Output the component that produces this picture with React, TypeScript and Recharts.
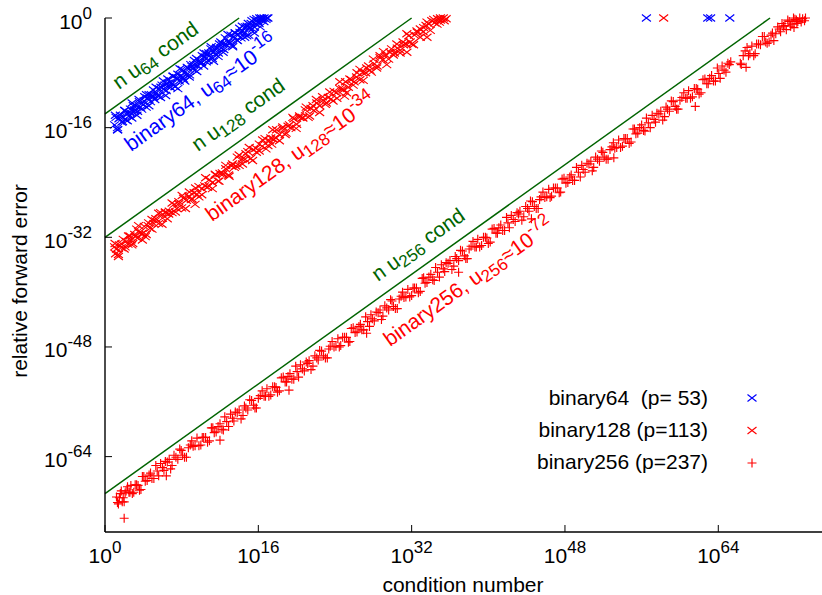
import { ScatterChart, Scatter, XAxis, YAxis, ReferenceLine } from "recharts"

// [log10(condition number), log10(relative forward error)]
const binary64: [number, number][] = [
  [1.0, -15.6], [1.15, -14.5], [1.3, -16.0], [1.45, -14.7], [1.6, -14.2], [1.75, -15.2], [1.9, -14.5], [2.05, -13.5],
  [2.2, -14.9], [2.35, -13.9], [2.5, -14.3], [2.65, -13.3], [2.8, -14.6], [2.95, -12.8], [3.1, -13.4], [3.25, -12.8],
  [3.4, -13.6], [3.55, -11.9], [3.7, -13.0], [3.85, -12.5], [4.0, -12.6], [4.15, -11.5], [4.3, -13.0], [4.45, -11.7],
  [4.6, -11.2], [4.75, -12.2], [4.9, -11.5], [5.05, -10.5], [5.2, -11.9], [5.35, -10.9], [5.5, -11.3], [5.65, -10.3],
  [5.8, -11.6], [5.95, -9.8], [6.1, -10.4], [6.25, -9.8], [6.4, -10.6], [6.55, -8.9], [6.7, -10.0], [6.85, -9.5],
  [7.0, -9.6], [7.15, -8.5], [7.3, -10.0], [7.45, -8.7], [7.6, -8.2], [7.75, -9.2], [7.9, -8.5], [8.05, -7.5],
  [8.2, -8.9], [8.35, -7.9], [8.5, -8.3], [8.65, -7.3], [8.8, -8.6], [8.95, -6.8], [9.1, -7.4], [9.25, -6.8],
  [9.4, -7.6], [9.55, -5.9], [9.7, -7.0], [9.85, -6.5], [10.0, -6.6], [10.15, -5.5], [10.3, -7.0], [10.45, -5.7],
  [10.6, -5.2], [10.75, -6.2], [10.9, -5.5], [11.05, -4.5], [11.2, -5.9], [11.35, -4.9], [11.5, -5.3], [11.65, -4.3],
  [11.8, -5.6], [11.95, -3.8], [12.1, -4.4], [12.25, -3.8], [12.4, -4.6], [12.55, -2.9], [12.7, -4.0], [12.85, -3.5],
  [13.0, -3.6], [13.15, -2.5], [13.3, -4.0], [13.45, -2.7], [13.6, -2.2], [13.75, -3.2], [13.9, -2.5], [14.05, -1.5],
  [14.2, -2.9], [14.35, -1.9], [14.5, -2.3], [14.65, -1.3], [14.8, -2.6], [14.95, -0.8], [15.1, -1.4], [15.25, -0.8],
  [15.4, -1.6], [15.55, -0.2], [15.7, -0.9], [15.85, -0.4], [16.0, -0.6], [16.15, 0], [16.3, -0.3], [16.45, -0.1],
  [16.6, 0], [16.8, -0.2], [17.0, 0], [15.0, -2.5], [15.6, -2.2], [16.2, -1.3], [1.3, -16.3], [7.6, -10.3],
  [56.5, 0], [62.9, 0], [63.2, 0], [65.2, 0],
  // second run
  [1.08, -14.2], [1.33, -16.3], [1.58, -14.5], [1.83, -15.1], [2.08, -13.5], [2.33, -15.0], [2.58, -13.8], [2.83, -12.4],
  [3.08, -13.6], [3.33, -14.2], [3.58, -12.2], [3.83, -13.3], [4.08, -12.1], [4.33, -11.2], [4.58, -12.8], [4.83, -11.2],
  [5.08, -11.5], [5.33, -10.1], [5.58, -11.4], [5.83, -10.1], [6.08, -9.2], [6.33, -11.3], [6.58, -9.5], [6.83, -10.1],
  [7.08, -8.5], [7.33, -10.0], [7.58, -8.8], [7.83, -7.4], [8.08, -8.6], [8.33, -9.2], [8.58, -7.2], [8.83, -8.3],
  [9.08, -7.1], [9.33, -6.2], [9.58, -7.8], [9.83, -6.2], [10.08, -6.5], [10.33, -5.1], [10.58, -6.4], [10.83, -5.1],
  [11.08, -4.2], [11.33, -6.3], [11.58, -4.5], [11.83, -5.1], [12.08, -3.5], [12.33, -5.0], [12.58, -3.8], [12.83, -2.4],
  [13.08, -3.6], [13.33, -4.2], [13.58, -2.2], [13.83, -3.3], [14.08, -2.1], [14.33, -1.2], [14.58, -2.8], [14.83, -1.2],
  [15.08, -1.5], [15.33, -0.4], [15.58, -1.3], [15.83, -0.1], [16.08, -0.8], [16.33, 0], [16.58, -0.5], [16.9, 0],
]

const binary128: [number, number][] = [
  [1.0, -33.4], [1.1, -34.4], [1.2, -33.7], [1.4, -34.5], [1.5, -33.1], [1.7, -33.5], [1.9, -32.3], [2.0, -33.7],
  [2.2, -32.6], [2.4, -33.0], [2.6, -31.8], [2.7, -32.4], [2.9, -32.9], [3.1, -31.6], [3.3, -30.8], [3.4, -32.1],
  [3.6, -31.3], [3.9, -31.4], [4.1, -30.4], [4.3, -31.6], [4.5, -30.3], [4.7, -30.7], [4.9, -29.4], [5.1, -30.0],
  [5.3, -29.3], [5.6, -30.0], [5.8, -28.4], [6.0, -29.2], [6.3, -28.4], [6.5, -29.3], [6.7, -28.2], [7.0, -28.4],
  [7.2, -27.2], [7.5, -27.8], [7.7, -27.1], [8.0, -27.7], [8.2, -26.3], [8.5, -26.6], [8.8, -25.4], [9.0, -26.5],
  [9.3, -25.5], [9.6, -25.7], [9.8, -24.6], [10.1, -25.8], [10.4, -24.5], [10.7, -24.7], [10.9, -23.6], [11.2, -24.0],
  [11.5, -22.8], [11.8, -23.8], [12.0, -22.7], [12.3, -22.8], [12.6, -22.0], [12.9, -22.9], [13.2, -21.6], [13.5, -21.8],
  [13.8, -20.3], [14.0, -21.5], [14.3, -20.6], [14.6, -20.6], [14.9, -19.5], [15.2, -20.5], [15.5, -19.2], [15.8, -19.6],
  [16.1, -18.4], [16.4, -18.7], [16.7, -17.6], [17.0, -18.6], [17.3, -17.5], [17.6, -17.7], [17.9, -16.3], [18.2, -17.0],
  [18.5, -16.1], [18.8, -17.0], [19.1, -15.8], [19.4, -16.0], [19.7, -14.7], [20.0, -15.5], [20.3, -14.5], [20.6, -14.5],
  [20.9, -13.4], [21.2, -14.5], [21.5, -13.2], [21.8, -13.5], [22.1, -12.4], [22.4, -12.8], [22.7, -11.5], [23.0, -12.6],
  [23.3, -11.6], [23.6, -11.8], [23.9, -10.7], [24.2, -11.7], [24.5, -10.3], [24.8, -10.3], [25.1, -9.3], [25.4, -10.1],
  [25.7, -9.0], [26.0, -9.3], [26.3, -8.0], [26.6, -9.0], [26.9, -8.0], [27.2, -8.0], [27.5, -7.0], [27.8, -7.9],
  [28.1, -6.7], [28.4, -7.0], [28.7, -5.5], [29.0, -6.1], [29.3, -5.4], [29.6, -6.0], [29.9, -4.5], [30.2, -5.1],
  [30.5, -4.4], [30.8, -4.7], [31.1, -3.5], [31.4, -3.8], [31.7, -2.6], [32.0, -3.8], [32.3, -2.5], [32.6, -2.1],
  [32.9, -1.6], [33.2, -2.0], [33.5, -1.1], [33.8, -0.9], [34.1, -0.4], [34.4, -0.7], [34.7, -0.1], [35.0, -0.3],
  [35.3, 0], [35.6, -0.1], [34.9, -0.6], [3.9, -32.4], [17.4, -18.4], [9.4, -27.2], [25.0, -11.4], [33.6, -2.8],
  [31.5, -5.0], [58.3, 0],
  // second run
  [1.05, -32.9], [1.4, -34.8], [1.75, -33.0], [2.1, -33.4], [2.45, -31.8], [2.8, -33.1], [3.15, -31.9], [3.5, -30.3],
  [3.85, -31.5], [4.2, -31.9], [4.55, -29.9], [4.9, -30.8], [5.25, -29.6], [5.6, -28.5], [5.95, -30.1], [6.3, -28.3],
  [6.65, -28.6], [7.0, -27.0], [7.35, -28.3], [7.7, -26.8], [8.05, -25.9], [8.4, -27.8], [8.75, -26.0], [9.1, -26.4],
  [9.45, -24.8], [9.8, -26.1], [10.15, -24.9], [10.5, -23.3], [10.85, -24.5], [11.2, -24.9], [11.55, -22.9], [11.9, -23.8],
  [12.25, -22.6], [12.6, -21.5], [12.95, -23.1], [13.3, -21.3], [13.65, -21.6], [14.0, -20.0], [14.35, -21.3], [14.7, -19.8],
  [15.05, -18.9], [15.4, -20.8], [15.75, -19.0], [16.1, -19.4], [16.45, -17.8], [16.8, -19.1], [17.15, -17.9], [17.5, -16.3],
  [17.85, -17.5], [18.2, -17.9], [18.55, -15.9], [18.9, -16.8], [19.25, -15.6], [19.6, -14.5], [19.95, -16.1], [20.3, -14.3],
  [20.65, -14.6], [21.0, -13.0], [21.35, -14.3], [21.7, -12.8], [22.05, -11.9], [22.4, -13.8], [22.75, -12.0], [23.1, -12.4],
  [23.45, -10.8], [23.8, -12.1], [24.15, -10.9], [24.5, -9.3], [24.85, -10.5], [25.2, -10.9], [25.55, -8.9], [25.9, -9.8],
  [26.25, -8.6], [26.6, -7.5], [26.95, -9.1], [27.3, -7.3], [27.65, -7.6], [28.0, -6.0], [28.35, -7.3], [28.7, -5.8],
  [29.05, -4.9], [29.4, -6.8], [29.75, -5.0], [30.1, -5.4], [30.45, -3.8], [30.8, -5.1], [31.15, -3.9], [31.5, -2.3],
  [31.85, -3.5], [32.2, -3.9], [32.55, -1.9], [32.9, -2.8], [33.25, -1.4], [33.6, -0.6], [33.95, -1.8], [34.3, -0.2],
  [34.65, -0.9], [35.0, 0], [35.4, -0.4],
]

const binary256: [number, number][] = [
  [1.2, -69.9], [1.4, -70.9], [1.5, -70.0], [1.7, -69.0], [1.9, -70.0], [2.0, -70.6], [2.2, -69.0], [2.5, -69.2],
  [2.7, -68.2], [3.0, -69.2], [3.3, -68.1], [3.6, -68.9], [3.9, -66.9], [4.2, -67.6], [4.6, -66.7], [4.9, -67.2],
  [5.3, -65.3], [5.6, -66.8], [6.0, -65.6], [6.3, -64.7], [6.7, -64.4], [7.0, -65.3], [7.4, -64.1], [7.8, -62.9],
  [8.1, -63.8], [8.5, -64.1], [8.9, -62.3], [9.2, -62.5], [9.6, -61.3], [10.0, -62.3], [10.3, -61.2], [10.7, -61.9],
  [11.1, -59.8], [11.4, -60.5], [11.8, -59.6], [12.2, -60.0], [12.5, -58.2], [12.9, -59.6], [13.3, -58.4], [13.6, -57.5],
  [14.0, -57.2], [14.4, -58.0], [14.7, -56.9], [15.1, -55.7], [15.5, -56.5], [15.8, -56.9], [16.2, -55.1], [16.6, -55.2],
  [16.9, -54.1], [17.3, -55.0], [17.7, -53.8], [18.0, -54.6], [18.4, -52.5], [18.8, -53.1], [19.1, -52.3], [19.5, -52.7],
  [19.9, -50.8], [20.2, -52.4], [20.6, -51.2], [21.0, -50.2], [21.3, -50.0], [21.7, -50.8], [22.1, -49.6], [22.4, -48.5],
  [22.8, -49.3], [23.2, -49.6], [23.5, -47.9], [23.9, -48.0], [24.3, -46.8], [24.6, -47.8], [25.0, -46.6], [25.4, -47.3],
  [25.7, -45.3], [26.1, -45.9], [26.5, -45.0], [26.8, -45.5], [27.2, -43.6], [27.6, -45.0], [27.9, -43.9], [28.3, -42.9],
  [28.7, -42.6], [29.0, -43.5], [29.4, -42.3], [29.8, -41.1], [30.1, -42.1], [30.5, -42.4], [30.9, -40.6], [31.2, -40.8],
  [31.6, -39.6], [32.0, -40.5], [32.3, -39.4], [32.7, -40.1], [33.1, -38.0], [33.4, -38.7], [33.8, -37.8], [34.2, -38.2],
  [34.5, -36.4], [34.9, -37.8], [35.3, -36.6], [35.6, -35.7], [36.0, -35.4], [36.4, -36.2], [36.7, -35.1], [37.1, -33.9],
  [37.5, -34.7], [37.8, -35.1], [38.2, -33.3], [38.6, -33.4], [38.9, -32.3], [39.3, -33.2], [39.7, -32.0], [40.0, -32.9],
  [40.4, -30.8], [40.8, -31.4], [41.1, -30.6], [41.5, -31.0], [41.9, -29.1], [42.2, -30.6], [42.6, -29.4], [43.0, -28.4],
  [43.3, -28.2], [43.7, -29.0], [44.1, -27.8], [44.4, -26.7], [44.8, -27.5], [45.2, -27.8], [45.5, -26.1], [45.9, -26.2],
  [46.3, -25.0], [46.6, -26.0], [47.0, -24.8], [47.4, -25.5], [47.7, -23.5], [48.1, -24.1], [48.5, -23.2], [48.8, -23.7],
  [49.2, -21.8], [49.6, -23.2], [49.9, -22.1], [50.3, -21.2], [50.7, -20.9], [51.0, -21.8], [51.4, -20.6], [51.8, -19.4],
  [52.1, -20.3], [52.5, -20.6], [52.9, -18.8], [53.2, -19.0], [53.6, -17.8], [54.0, -18.7], [54.3, -17.6], [54.7, -18.3],
  [55.1, -16.2], [55.4, -16.9], [55.8, -16.0], [56.2, -16.4], [56.5, -14.6], [56.9, -16.0], [57.3, -14.8], [57.6, -13.9],
  [58.0, -13.6], [58.4, -14.4], [58.7, -13.3], [59.1, -12.1], [59.5, -12.9], [59.8, -13.3], [60.2, -11.6], [60.6, -11.7],
  [60.9, -10.6], [61.3, -11.5], [61.7, -10.3], [62.0, -11.1], [62.4, -9.0], [62.8, -9.6], [63.1, -8.8], [63.5, -9.2],
  [63.9, -7.3], [64.2, -8.8], [64.6, -7.6], [65.0, -6.6], [65.3, -6.4], [66.3, -6.6], [66.6, -5.5], [67.0, -4.3],
  [67.3, -5.2], [67.7, -5.5], [68.0, -3.8], [68.4, -3.9], [68.8, -2.7], [69.1, -3.7], [69.5, -2.5], [69.8, -3.3],
  [70.2, -1.3], [70.5, -2.0], [70.8, -1.2], [71.1, -1.7], [71.4, -0.5], [71.7, -0.9], [72.0, -0.2], [72.3, -0.5],
  [72.5, 0], [72.8, -0.1], [73.1, 0], [71.9, -1.4], [2.0, -73.0], [6.4, -66.8], [12.0, -61.6], [19.2, -54.3],
  [27.3, -46.0], [36.9, -37.1], [44.5, -29.3], [53.1, -20.4], [61.6, -12.9], [66.9, -7.2], [72.2, -0.8],
  // second run
  [1.3, -70.7], [1.6, -69.4], [1.8, -70.6], [2.1, -69.3], [2.35, -68.4], [2.6, -69.2], [2.85, -69.4], [3.15, -68.1],
  [3.45, -68.2], [3.75, -68.8], [4.05, -66.9], [4.4, -67.5], [4.75, -66.4], [5.1, -67.2], [5.45, -66.1], [5.8, -65.0],
  [6.15, -66.0], [6.5, -64.8], [6.85, -65.8], [7.2, -63.8], [7.6, -64.4], [7.95, -63.1], [8.3, -64.1], [8.7, -62.7],
  [9.05, -61.7], [9.4, -62.4], [9.8, -62.4], [10.15, -61.2], [10.5, -61.2], [10.9, -61.7], [11.25, -59.8], [11.6, -60.4],
  [12.0, -59.2], [12.35, -60.1], [12.7, -58.9], [13.1, -57.8], [13.45, -58.8], [13.8, -57.6], [14.2, -58.5], [14.55, -56.6],
  [14.9, -57.2], [15.3, -55.8], [15.65, -56.9], [16.0, -55.5], [16.4, -54.4], [16.75, -55.2], [17.1, -55.2], [17.5, -53.8],
  [17.85, -53.9], [18.2, -54.4], [18.6, -52.4], [18.95, -53.1], [19.3, -51.9], [19.7, -52.7], [20.05, -51.6], [20.4, -50.6],
  [20.8, -51.5], [21.15, -50.4], [21.5, -51.3], [21.9, -49.3], [22.25, -49.9], [22.6, -48.6], [23.0, -49.6], [23.35, -48.3],
  [23.7, -47.2], [24.1, -47.9], [24.45, -48.0], [24.8, -46.6], [25.2, -46.6], [25.55, -47.2], [25.9, -45.2], [26.3, -45.8],
  [26.65, -44.7], [27.0, -45.5], [27.4, -44.3], [27.75, -43.3], [28.1, -44.2], [28.5, -43.0], [28.85, -44.0], [29.2, -42.0],
  [29.6, -42.6], [29.95, -41.3], [30.3, -42.4], [30.7, -41.0], [31.05, -40.0], [31.4, -40.7], [31.8, -40.7], [32.15, -39.4],
  [32.5, -39.4], [32.9, -39.9], [33.25, -37.9], [33.6, -38.6], [34.0, -37.4], [34.35, -38.3], [34.7, -37.1], [35.1, -36.0],
  [35.45, -37.0], [35.8, -35.8], [36.2, -36.7], [36.55, -34.8], [36.9, -35.4], [37.3, -34.0], [37.65, -35.1], [38.0, -33.7],
  [38.4, -32.6], [38.75, -33.4], [39.1, -33.4], [39.5, -32.0], [39.85, -32.1], [40.2, -32.7], [40.6, -30.7], [40.95, -31.4],
  [41.3, -30.2], [41.7, -31.0], [42.05, -29.9], [42.4, -28.8], [42.8, -29.7], [43.15, -28.6], [43.5, -29.5], [43.9, -27.5],
  [44.25, -28.2], [44.6, -26.8], [45.0, -27.8], [45.35, -26.5], [45.7, -25.4], [46.1, -26.1], [46.45, -26.2], [46.8, -24.8],
  [47.2, -24.8], [47.55, -25.4], [47.9, -23.4], [48.3, -24.0], [48.65, -22.9], [49.0, -23.7], [49.4, -22.5], [49.75, -21.5],
  [50.1, -22.5], [50.5, -21.3], [50.85, -22.3], [51.2, -20.3], [51.6, -20.9], [51.95, -19.6], [52.3, -20.6], [52.7, -19.2],
  [53.05, -18.2], [53.4, -18.9], [53.8, -18.9], [54.15, -17.6], [54.5, -17.6], [54.9, -18.1], [55.25, -16.2], [55.6, -16.8],
  [56.0, -15.6], [56.35, -16.5], [56.7, -15.3], [57.1, -14.2], [57.45, -15.2], [57.8, -14.0], [58.2, -14.9], [58.55, -13.0],
  [58.9, -13.6], [59.3, -12.2], [59.65, -13.3], [60.0, -12.0], [60.4, -10.9], [60.75, -11.7], [61.1, -11.7], [61.5, -10.3],
  [61.85, -10.4], [62.2, -10.9], [62.6, -8.9], [62.95, -9.6], [63.3, -8.4], [63.7, -9.2], [64.05, -8.1], [64.4, -7.0],
  [64.8, -7.9], [65.15, -6.8], [66.4, -6.8], [66.8, -4.8], [67.15, -5.5], [67.5, -4.1], [67.85, -5.2], [68.2, -3.8],
  [68.6, -2.7], [68.95, -3.5], [69.3, -3.5], [69.65, -2.2], [70.0, -2.3], [70.35, -1.6], [70.65, -0.8], [70.95, -1.1],
  [71.25, -0.3], [71.55, -1.2], [71.85, 0], [72.15, -0.3], [72.65, -0.6], [73.0, -0.4],
]

const xTicks = [0, 16, 32, 48, 64]
const yTicks = [0, -16, -32, -48, -64]

// n*u*cond bounds, as log10 endpoints
const boundLines = [
  { id: "u64", from: [0, -14], to: [14, 0] },
  { id: "u128", from: [0, -32], to: [32, 0] },
  { id: "u256", from: [0, -69.4], to: [69.4, 0] },
]

const legendRows = [
  { label: "binary64  (p= 53)", color: "#0000ff", marker: "x" },
  { label: "binary128 (p=113)", color: "#ff0000", marker: "x" },
  { label: "binary256 (p=237)", color: "#ff0000", marker: "+" },
]

const GREEN = "#006400"
const FONT = "'Liberation Sans', Arial, Helvetica, sans-serif"
const FS = 21
const SUB = 17

const toPoints = (rows: [number, number][]) => rows.map(([x, y]) => ({ x, y }))

function Marker({ cx, cy, color, kind }: { cx: number; cy: number; color: string; kind: string }) {
  if (kind === "+") {
    return (
      <path d={`M${cx - 4.5},${cy}H${cx + 4.5}M${cx},${cy - 4.5}V${cy + 4.5}`} stroke={color} strokeWidth={1.15} fill="none" />
    )
  }
  return (
    <path
      d={`M${cx - 4.5},${cy - 3.5}L${cx + 4.5},${cy + 3.5}M${cx - 4.5},${cy + 3.5}L${cx + 4.5},${cy - 3.5}`}
      stroke={color}
      strokeWidth={1.15}
      fill="none"
    />
  )
}

const shapeFor = (color: string, kind: string) => (props: any) => (
  <Marker cx={props.cx} cy={props.cy} color={color} kind={kind} />
)

function BottomTick(props: any) {
  const { x, y, payload } = props
  return (
    <g>
      <line x1={x} x2={x} y1={y} y2={y - 7} stroke="#000" strokeWidth={1} />
      <text x={x} y={y + 31} textAnchor="middle" fontSize={FS} fontFamily={FONT} fill="#000">
        <tspan>10</tspan>
        <tspan dy={-10} fontSize={SUB}>{payload.value}</tspan>
      </text>
    </g>
  )
}

function TopTick(props: any) {
  const { x, y } = props
  return <line x1={x} x2={x} y1={y} y2={y + 7} stroke="#000" strokeWidth={1} />
}

function LeftTick(props: any) {
  const { x, y, payload } = props
  return (
    <g>
      <line x1={x} x2={x + 7} y1={y} y2={y} stroke="#000" strokeWidth={1} />
      <text x={x - 13} y={y + 10.5} textAnchor="end" fontSize={FS} fontFamily={FONT} fill="#000">
        <tspan>10</tspan>
        <tspan dy={-10} fontSize={SUB}>{payload.value}</tspan>
      </text>
    </g>
  )
}

function RightTick(props: any) {
  const { x, y } = props
  return <line x1={x} x2={x - 7} y1={y} y2={y} stroke="#000" strokeWidth={1} />
}

const ANGLE = -35.6

function Slanted({ x, y, color, children }: { x: number; y: number; color: string; children: any }) {
  return (
    <text
      transform={`translate(${x},${y}) rotate(${ANGLE})`}
      fontSize={FS}
      fontFamily={FONT}
      fill={color}
      style={{ whiteSpace: "pre" }}
    >
      {children}
    </text>
  )
}

function Annotations() {
  return (
    <svg width={822} height={595} style={{ position: "absolute", left: 0, top: 0, pointerEvents: "none" }}>
      <Slanted x={119} y={90} color={GREEN}>
        n u<tspan dy={4} fontSize={SUB}>64</tspan>
        <tspan dy={-4}>{" cond"}</tspan>
      </Slanted>
      <Slanted x={131} y={152} color="#0000ff">
        binary64, u<tspan dy={4} fontSize={SUB}>64</tspan>
        <tspan dy={-4}>≈10</tspan>
        <tspan dy={-9} fontSize={SUB}>-16</tspan>
      </Slanted>
      <Slanted x={198} y={152} color={GREEN}>
        n u<tspan dy={4} fontSize={SUB}>128</tspan>
        <tspan dy={-4}>{" cond"}</tspan>
      </Slanted>
      <Slanted x={212} y={222} color="#ff0000">
        binary128, u<tspan dy={4} fontSize={SUB}>128</tspan>
        <tspan dy={-4}>≈10</tspan>
        <tspan dy={-9} fontSize={SUB}>-34</tspan>
      </Slanted>
      <Slanted x={378} y={282} color={GREEN}>
        n u<tspan dy={4} fontSize={SUB}>256</tspan>
        <tspan dy={-4}>{" cond"}</tspan>
      </Slanted>
      <Slanted x={390} y={347} color="#ff0000">
        binary256, u<tspan dy={4} fontSize={SUB}>256</tspan>
        <tspan dy={-4}>≈10</tspan>
        <tspan dy={-9} fontSize={SUB}>-72</tspan>
      </Slanted>

      {legendRows.map((row, i) => (
        <g key={row.label}>
          <text
            x={708}
            y={405 + i * 32}
            textAnchor="end"
            fontSize={FS}
            fontFamily={FONT}
            fill="#000"
            style={{ whiteSpace: "pre" }}
          >
            {row.label}
          </text>
          <Marker cx={752} cy={398 + i * 32.5} color={row.color} kind={row.marker} />
        </g>
      ))}

      <text x={463} y={592} textAnchor="middle" fontSize={FS} fontFamily={FONT} fill="#000">
        condition number
      </text>
      <text
        transform="translate(27,281) rotate(-90)"
        textAnchor="middle"
        fontSize={FS}
        fontFamily={FONT}
        fill="#000"
      >
        relative forward error
      </text>
    </svg>
  )
}

export default function App() {
  return (
    <div
      style={{
        position: "absolute",
        left: 0,
        top: 0,
        width: 822,
        height: 595,
        overflow: "hidden",
        background: "#fff",
        fontFamily: FONT,
      }}
    >
      <ScatterChart width={830} height={595} margin={{ top: 18, right: 6.3, bottom: 0, left: 0 }}>
        <XAxis
          type="number"
          dataKey="x"
          domain={[0, 75]}
          ticks={xTicks}
          height={63}
          tickSize={0}
          tickMargin={0}
          tickLine={false}
          tick={<BottomTick />}
          axisLine={{ stroke: "#000", strokeWidth: 1.4 }}
        />
        <XAxis
          xAxisId="top"
          orientation="top"
          type="number"
          dataKey="x"
          domain={[0, 75]}
          ticks={xTicks}
          height={0}
          tickSize={0}
          tickMargin={0}
          tickLine={false}
          tick={<TopTick />}
          axisLine={{ stroke: "#000", strokeWidth: 1.4 }}
        />
        <YAxis
          type="number"
          dataKey="y"
          domain={[-75, 0]}
          ticks={yTicks}
          width={105}
          tickSize={0}
          tickMargin={0}
          tickLine={false}
          tick={<LeftTick />}
          axisLine={{ stroke: "#000", strokeWidth: 1.4 }}
        />
        <YAxis
          yAxisId="right"
          orientation="right"
          type="number"
          dataKey="y"
          domain={[-75, 0]}
          ticks={yTicks}
          width={0}
          tickSize={0}
          tickMargin={0}
          tickLine={false}
          tick={<RightTick />}
          axisLine={{ stroke: "#000", strokeWidth: 1.4 }}
        />
        <Scatter data={toPoints(binary64)} shape={shapeFor("#0000ff", "x")} isAnimationActive={false} />
        <Scatter data={toPoints(binary128)} shape={shapeFor("#ff0000", "x")} isAnimationActive={false} />
        <Scatter data={toPoints(binary256)} shape={shapeFor("#ff0000", "+")} isAnimationActive={false} />
        {boundLines.map((b) => (
          <ReferenceLine
            key={b.id}
            segment={[
              { x: b.from[0], y: b.from[1] },
              { x: b.to[0], y: b.to[1] },
            ]}
            stroke={GREEN}
            strokeWidth={1.5}
          />
        ))}
      </ScatterChart>
      <Annotations />
    </div>
  )
}
